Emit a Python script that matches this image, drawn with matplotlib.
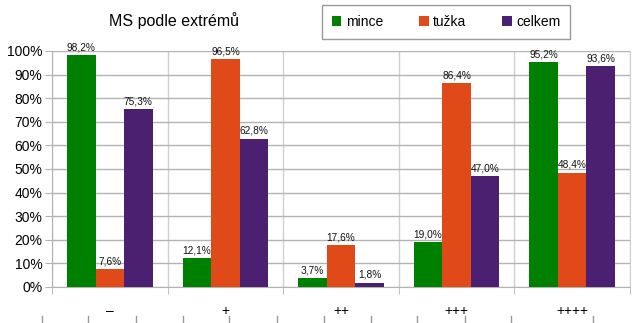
import numpy as np
import matplotlib
matplotlib.use("Agg")
import matplotlib.pyplot as plt
from matplotlib.lines import Line2D

plt.rcParams['font.family'] = ['Liberation Sans', 'DejaVu Sans']

categories = ['–', '+', '++', '+++', '++++']
series_names = ['mince', 'tužka', 'celkem']
mince = [98.2, 12.1, 3.7, 19.0, 95.2]
tuzka = [7.6, 96.5, 17.6, 86.4, 48.4]
celkem = [75.3, 62.8, 1.8, 47.0, 93.6]
colors = ['#008000', '#E04A18', '#4B2070']

fig = plt.figure(figsize=(6.38, 3.23), dpi=100)
ax = fig.add_axes([52 / 638, 1 - 287 / 323, 578 / 638, 236 / 323])

x = np.arange(len(categories))
w = 0.247
for i, (vals, col) in enumerate(zip([mince, tuzka, celkem], colors)):
    pos = x + (i - 1) * w
    ax.bar(pos, vals, width=w, color=col, label=series_names[i], zorder=3)
    for px, v in zip(pos, vals):
        ax.text(px, v + 1.2, f'{v:.1f}%'.replace('.', ','), ha='center',
                va='bottom', fontsize=7.3, color='#111111', zorder=4)

ax.set_xlim(-0.5, len(categories) - 0.5)
ax.set_ylim(0, 100)
ax.set_yticks(np.arange(0, 101, 10))
ax.set_yticklabels([f'{v}%' for v in range(0, 101, 10)], fontsize=10)
ax.set_xticks(x)
ax.set_xticklabels(categories, fontsize=10)
ax.set_xticks(np.arange(-0.5, len(categories)), minor=True)
ax.tick_params(axis='x', which='major', length=0, pad=12)
ax.tick_params(axis='x', which='minor', length=5, color='#b3b3b3')
ax.tick_params(axis='y', length=5, color='#b3b3b3', pad=2)

ax.grid(axis='y', color='#b3b3b3', linewidth=1, zorder=0)
ax.grid(axis='x', which='minor', color='#d0d0d0', linewidth=1, zorder=0)
ax.spines['top'].set_visible(False)
for s in ['left', 'right', 'bottom']:
    ax.spines[s].set_color('#b3b3b3')
ax.spines['right'].set_color('#d0d0d0')

fig.text(174 / 638, 1 - 21 / 323, 'MS podle extrémů', ha='center', va='center',
         fontsize=11.5)

leg = ax.legend(loc='center', bbox_to_anchor=(446 / 638, 1 - 22 / 323),
                bbox_transform=fig.transFigure, ncol=3, fontsize=10,
                frameon=True, fancybox=False, edgecolor='#808080',
                handlelength=0.7, handleheight=0.7, handletextpad=0.3,
                columnspacing=2.6, borderpad=0.7, borderaxespad=0)
leg.get_frame().set_linewidth(1)

# short ticks along the bottom edge
for px in [42, 88, 136, 183, 229, 277, 324, 371, 417, 465, 511, 593]:
    fig.add_artist(Line2D([px / 638, px / 638], [0, 7 / 323],
                          transform=fig.transFigure, color='#999999', lw=1))

fig.savefig('out.png', dpi=100)
